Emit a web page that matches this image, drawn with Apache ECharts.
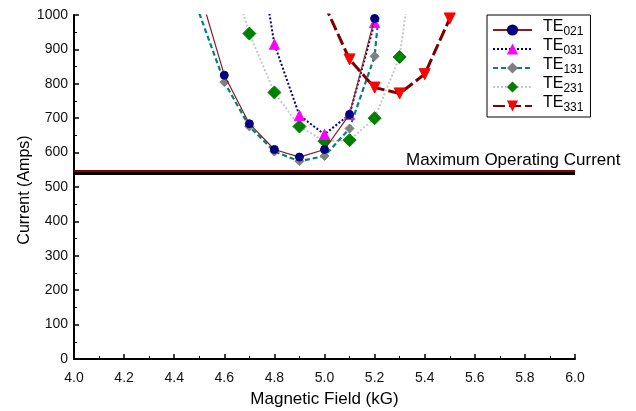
<!DOCTYPE html>
<html>
<head>
<meta charset="utf-8">
<script src="https://cdn.jsdelivr.net/npm/echarts@6/dist/echarts.min.js"></script>
<style>html,body{margin:0;padding:0;background:#fff;}#c{width:636px;height:411px;}</style>
</head>
<body>
<div id="c"></div>
<script>
// Data
const te021X = [4.5, 4.6, 4.7, 4.8, 4.9, 5.0, 5.1, 5.2];
const te021Y = [1072, 825, 684, 609, 587, 609, 711, 990];
const te031X = [4.7, 4.8, 4.9, 5.0, 5.1, 5.2];
const te031Y = [1360, 915, 708, 653, 711, 978];
const te131X = [4.5, 4.6, 4.7, 4.8, 4.9, 5.0, 5.1, 5.2, 5.3];
const te131Y = [1005, 805, 676, 603, 575, 590, 670, 880, 1630];
const te231X = [4.6, 4.7, 4.8, 4.9, 5.0, 5.1, 5.2, 5.3, 5.4];
const te231Y = [1183, 946, 775, 676, 633, 636, 700, 878, 1408];
const te331X = [5.0, 5.1, 5.2, 5.3, 5.4, 5.5];
const te331Y = [1030, 871, 789, 772, 828, 990];
const maxCurrentBlack = 541;
const maxCurrentRed = 547;
const maxCurrentLabel = 'Maximum Operating Current';
const xTicks = {min: 4.0, max: 6.0, interval: 0.2};
const yTicks = {min: 0, max: 1000, interval: 100};

function pairs(xs, ys) { return xs.map((x, i) => [x, ys[i]]); }

const chart = echarts.init(document.getElementById('c'), null, {renderer: 'canvas'});
const font = 'Liberation Sans, Arial, sans-serif';

const legendRich = {
  a: {fontSize: 16, lineHeight: 16, fontFamily: font, color: '#000', verticalAlign: 'bottom', padding: [0, 0, 3, 6]},
  b: {fontSize: 12, lineHeight: 12, fontFamily: font, color: '#000', verticalAlign: 'bottom'}
};

chart.setOption({
  animation: false,
  backgroundColor: '#fff',
  grid: {left: 74, right: 61, top: 15, bottom: 52, containLabel: false, outerBoundsMode: 'none'},
  xAxis: {
    type: 'value', min: xTicks.min, max: xTicks.max, interval: xTicks.interval,
    name: 'Magnetic Field (kG)', nameLocation: 'middle', nameGap: 32, nameMoveOverlap: false,
    nameTextStyle: {fontSize: 17, fontFamily: font, color: '#000'},
    axisLine: {onZero: false, lineStyle: {color: '#000', width: 2}},
    axisTick: {inside: true, length: 5, lineStyle: {color: '#000', width: 1.5}},
    minorTick: {show: true, splitNumber: 2, length: 3, lineStyle: {color: '#000', width: 1}},
    axisLabel: {fontSize: 14, fontFamily: font, color: '#111', margin: 12, formatter: v => v.toFixed(1)},
    splitLine: {show: false}
  },
  yAxis: {
    type: 'value', min: yTicks.min, max: yTicks.max, interval: yTicks.interval,
    name: 'Current (Amps)', nameLocation: 'middle', nameGap: 41, nameMoveOverlap: false,
    nameTextStyle: {fontSize: 16, fontFamily: font, color: '#000', padding: [0, 6, 0, 0]},
    axisLine: {show: true, lineStyle: {color: '#000', width: 2}},
    axisTick: {show: true, inside: true, length: 5, lineStyle: {color: '#000', width: 1.5}},
    minorTick: {show: true, splitNumber: 2, length: 3, lineStyle: {color: '#000', width: 1}},
    axisLabel: {fontSize: 14, fontFamily: font, color: '#111', margin: 6, formatter: v => String(v)},
    splitLine: {show: false}
  },
  legend: {
    orient: 'vertical', left: 487, top: 15,
    backgroundColor: '#fff', borderColor: '#000', borderWidth: 1,
    padding: [4, 7, 3, 5], itemGap: 0, itemWidth: 39, itemHeight: 14,
    textStyle: {rich: legendRich},
    formatter: name => '{a|' + name.slice(0, 2) + '}{b|' + name.slice(2) + '}',
    data: ['TE021', 'TE031', 'TE131', 'TE231', 'TE331']
  },
  graphic: [{
    type: 'text', left: 406, top: 152,
    style: {text: maxCurrentLabel, fontSize: 17, fontFamily: font, fill: '#000'}
  }],
  series: [
    {
      name: 'TE021', type: 'line', data: pairs(te021X, te021Y),
      lineStyle: {color: '#8B1A1A', width: 1.2, type: 'solid'},
      symbol: 'circle', symbolSize: 8,
      itemStyle: {color: '#000080', borderColor: '#000080'},
      z: 5
    },
    {
      name: 'TE031', type: 'line', data: pairs(te031X, te031Y),
      lineStyle: {color: '#00008B', width: 2, type: [2, 2]},
      symbol: 'triangle', symbolSize: 10,
      itemStyle: {color: '#FF00FF', borderColor: '#FF00FF'},
      z: 4
    },
    {
      name: 'TE131', type: 'line', data: pairs(te131X, te131Y),
      lineStyle: {color: '#008080', width: 2.2, type: [5, 3]},
      symbol: 'diamond', symbolSize: 9,
      itemStyle: {color: '#808080', borderColor: '#808080'},
      z: 3
    },
    {
      name: 'TE231', type: 'line', data: pairs(te231X, te231Y),
      lineStyle: {color: '#C8C8C8', width: 2, type: [2, 2]},
      symbol: 'diamond', symbolSize: 13,
      itemStyle: {color: '#008000', borderColor: '#008000'},
      z: 2
    },
    {
      name: 'TE331', type: 'line', data: pairs(te331X, te331Y),
      lineStyle: {color: '#800000', width: 3, type: [12, 4]},
      symbol: 'triangle', symbolRotate: 180, symbolSize: 11,
      itemStyle: {color: '#FF0000', borderColor: '#FF0000'},
      z: 6,
      markLine: {
        silent: true, symbol: 'none', label: {show: false},
        data: [
          {yAxis: maxCurrentBlack, lineStyle: {color: '#000', width: 3, type: 'solid'}},
          {yAxis: maxCurrentRed, lineStyle: {color: '#8B0000', width: 2, type: 'solid'}}
        ]
      }
    }
  ]
});
</script>
</body>
</html>
